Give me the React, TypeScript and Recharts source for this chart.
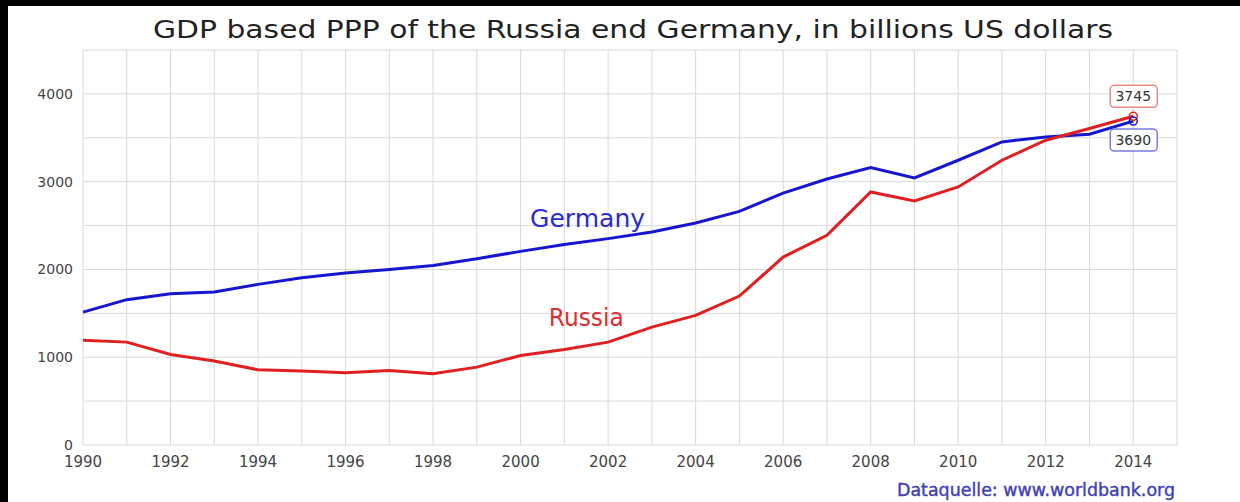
import { LineChart, Line, XAxis, YAxis, CartesianGrid, ReferenceDot } from 'recharts';

const years = [1990, 1991, 1992, 1993, 1994, 1995, 1996, 1997, 1998, 1999, 2000, 2001, 2002, 2003, 2004, 2005, 2006, 2007, 2008, 2009, 2010, 2011, 2012, 2013, 2014];
const germany = [1514, 1656, 1724, 1742, 1830, 1906, 1959, 1998, 2045, 2123, 2206, 2283, 2351, 2427, 2529, 2662, 2870, 3030, 3161, 3043, 3244, 3453, 3510, 3540, 3690];
const russia = [1192, 1172, 1032, 956, 857, 842, 823, 849, 812, 887, 1020, 1089, 1172, 1343, 1477, 1697, 2141, 2389, 2883, 2780, 2940, 3244, 3472, 3606, 3745];

// grid every year / every 500, labels every 2 years / every 1000
const xTicks = [1990, 1991, 1992, 1993, 1994, 1995, 1996, 1997, 1998, 1999, 2000, 2001, 2002, 2003, 2004, 2005, 2006, 2007, 2008, 2009, 2010, 2011, 2012, 2013, 2014, 2015];
const xLabels = [1990, 1992, 1994, 1996, 1998, 2000, 2002, 2004, 2006, 2008, 2010, 2012, 2014];
const yTicks = [0, 500, 1000, 1500, 2000, 2500, 3000, 3500, 4000, 4500];
const yLabels = [0, 1000, 2000, 3000, 4000];

// in-plot series names (position = text baseline centre)
const seriesLabels = [
  { name: 'Germany', year: 2001.53, value: 2483, color: '#2a2ad0', size: 25, len: 115 },
  { name: 'Russia', year: 2001.5, value: 1355, color: '#dc3030', size: 24, len: 75 },
];

const TITLE = 'GDP based PPP of the Russia end Germany, in billions US dollars';
const SOURCE = 'Dataquelle: www.worldbank.org';

const BLUE = '#1616d0';
const RED = '#e02020';
const FONT = '"DejaVu Sans", Verdana, sans-serif';

const data = years.map((year, i) => ({ year, germany: germany[i], russia: russia[i] }));
const last = years.length - 1;

function endMarker(color: string, boxColor: string, above: boolean, text: string) {
  return (props: any) => {
    const { cx, cy } = props;
    const by = above ? cy - 20 : cy + 19;
    return (
      <g>
        <circle cx={cx} cy={cy} r={4} fill="none" stroke={color} strokeWidth={1.5} />
        <rect x={cx - 23} y={by - 11} width={47} height={22} rx={4} fill="#fff" stroke={boxColor} strokeWidth={1.5} />
        <text x={cx} y={by + 5} textAnchor="middle" fontSize={14} fontFamily={FONT} fill="#333">{text}</text>
      </g>
    );
  };
}

function textDot(s: (typeof seriesLabels)[number]) {
  return (props: any) => (
    <text
      x={props.cx}
      y={props.cy}
      textAnchor="middle"
      fontSize={s.size}
      textLength={s.len}
      lengthAdjust="spacingAndGlyphs"
      fontFamily={FONT}
      fill={s.color}
    >
      {s.name}
    </text>
  );
}

export default function App() {
  return (
    <div style={{ position: 'absolute', left: 0, top: 0, width: 1240, height: 502, background: '#000' }}>
      <div style={{ position: 'absolute', left: 8, top: 6, width: 1232, height: 496, background: '#fff' }}>
        <LineChart width={1232} height={496} data={data} margin={{ top: 44, right: 63, bottom: 27, left: 15 }}>
          <CartesianGrid stroke="#d9d9d9" strokeWidth={1} />
          <XAxis
            dataKey="year"
            type="number"
            domain={[1990, 2015]}
            ticks={xTicks}
            interval={0}
            tickFormatter={(v: number) => (xLabels.includes(v) ? String(v) : '')}
            axisLine={false}
            tickLine={false}
            tickMargin={5}
            height={30}
            tick={{ fontSize: 15, fill: '#444', fontFamily: FONT }}
          />
          <YAxis
            type="number"
            domain={[0, 4500]}
            ticks={yTicks}
            interval={0}
            tickFormatter={(v: number) => (yLabels.includes(v) ? String(v) : '')}
            axisLine={false}
            tickLine={false}
            tickMargin={4}
            width={60}
            tick={{ fontSize: 14, fill: '#444', fontFamily: FONT }}
          />
          <Line type="linear" dataKey="germany" stroke={BLUE} strokeWidth={3} dot={false} isAnimationActive={false} />
          <Line type="linear" dataKey="russia" stroke={RED} strokeWidth={3} dot={false} isAnimationActive={false} />
          {seriesLabels.map((s) => (
            <ReferenceDot key={s.name} x={s.year} y={s.value} r={0} shape={textDot(s)} />
          ))}
          <ReferenceDot x={years[last]} y={russia[last]} shape={endMarker(RED, '#e88a8a', true, String(russia[last]))} />
          <ReferenceDot x={years[last]} y={germany[last]} shape={endMarker(BLUE, '#7a7ae0', false, String(germany[last]))} />
        </LineChart>
        <svg width={1232} height={496} style={{ position: 'absolute', left: 0, top: 0, pointerEvents: 'none' }}>
          <text x={625} y={32} textAnchor="middle" fontSize={24} textLength={960} lengthAdjust="spacingAndGlyphs" fontFamily={FONT} fill="#222">
            {TITLE}
          </text>
          <text x={1167} y={490} textAnchor="end" fontSize={17} stroke="#4040b4" strokeWidth={0.4} textLength={278} lengthAdjust="spacingAndGlyphs" fontFamily={FONT} fill="#4040b4">
            {SOURCE}
          </text>
        </svg>
      </div>
    </div>
  );
}
